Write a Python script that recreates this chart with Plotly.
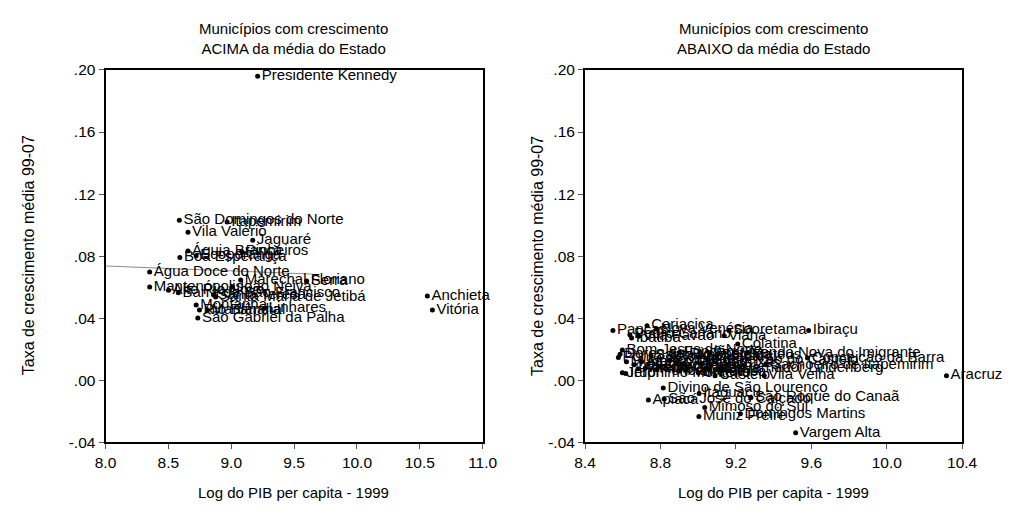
import plotly.graph_objects as go

# ---- Left panel: municipalities ABOVE state average ----
left_names = ["Presidente Kennedy", "São Domingos do Norte", "Itapemirim", "Vila Valério",
              "Jaguaré", "Águia Branca", "Pinheiros", "Boa Esperança", "Ecoporanga",
              "Água Doce do Norte", "Marechal Floriano", "Serra", "Mantenópolis",
              "Alto Rio Novo", "Barra de São Francisco", "João Neiva", "Santa Maria de Jetibá",
              "Santa Teresa", "Montanha", "Linhares", "Rio Bananal", "Marilândia",
              "São Gabriel da Palha", "Anchieta", "Vitória"]
left_x = [9.21, 8.587, 8.967, 8.656, 9.171, 8.656, 9.083, 8.591, 8.721,
          8.351, 9.075, 9.60, 8.351, 8.501, 8.579, 9.01, 8.876,
          8.86, 8.721, 9.264, 8.747, 8.811, 8.734, 10.56, 10.60]
left_y = [0.196, 0.1032, 0.1021, 0.0955, 0.0903, 0.0834, 0.083, 0.0792, 0.0803,
          0.0699, 0.0647, 0.0641, 0.0602, 0.058, 0.0564, 0.0602, 0.0537,
          0.0550, 0.0485, 0.0464, 0.0454, 0.0454, 0.0402, 0.0543, 0.0454]

# fitted line (left panel)
line_x = [8.0, 9.64]
line_y = [0.0737, 0.0685]

# ---- Right panel: municipalities BELOW state average ----
right_names = ["Pancas", "Cariacica", "Nova Venécia", "Sooretama", "Ibiraçu",
               "Pedro Canário", "Ibatiba", "Vila Pavão", "Viana", "Colatina",
               "Bom Jesus do Norte", "Dores do Rio Preto", "Ponto Belo",
               "Venda Nova do Imigrante", "Conceição da Barra", "Cachoeiro de Itapemirim",
               "Guarapari", "São Mateus", "Fundão", "Iconha", "Marataízes",
               "Santa Leopoldina", "Afonso Cláudio", "Laranja da Terra", "Guaçuí",
               "Alegre", "Mucurici", "Conceição do Castelo", "Governador Lindenberg",
               "Atílio Vivácqua", "Alfredo Chaves", "Jerônimo Monteiro", "Irupi",
               "Ibitirama", "Brejetuba", "Castelo", "Vila Velha",
               "Divino de São Lourenço", "Itaguaçu", "Apiacá", "São José do Calçado",
               "São Roque do Canaã", "Mimoso do Sul", "Muniz Freire", "Domingos Martins",
               "Vargem Alta", "Aracruz"]
right_x = [8.548, 8.729, 8.78, 9.164, 9.586,
           8.638, 8.647, 8.685, 9.138, 9.21,
           8.598, 8.586, 8.577,
           9.26, 9.58, 9.36,
           9.00, 9.10, 8.90, 8.85, 9.02,
           8.75, 8.70, 8.66, 8.80,
           8.72, 8.62, 9.05, 9.12,
           8.78, 8.681, 8.598, 8.616,
           8.90, 9.00, 9.09, 9.35,
           8.815, 9.005, 8.736, 8.82,
           9.28, 9.035, 9.004, 9.224,
           9.517, 10.317]
right_y = [0.0321, 0.0352, 0.0331, 0.0322, 0.0322,
           0.0294, 0.0273, 0.0284, 0.0287, 0.0235,
           0.0196, 0.0169, 0.0148,
           0.0175, 0.0145, 0.0100,
           0.0150, 0.0160, 0.0180, 0.0130, 0.0110,
           0.0160, 0.0120, 0.0100, 0.0090,
           0.0080, 0.0120, 0.0130, 0.0080,
           0.0070, 0.0075, 0.0049, 0.0044,
           0.0060, 0.0050, 0.0030, 0.0030,
           -0.0049, -0.0084, -0.0126, -0.0120,
           -0.0110, -0.0174, -0.0232, -0.0215,
           -0.0338, 0.0030]

y_ticks = [-0.04, 0.0, 0.04, 0.08, 0.12, 0.16, 0.20]
y_ticktext = ["-.04", ".00", ".04", ".08", ".12", ".16", ".20"]
left_xticks = [8.0, 8.5, 9.0, 9.5, 10.0, 10.5, 11.0]
right_xticks = [8.4, 8.8, 9.2, 9.6, 10.0, 10.4]

title_left = "Municípios com crescimento<br>ACIMA da média do Estado"
title_right = "Municípios com crescimento<br>ABAIXO da média do Estado"
x_title = "Log do PIB per capita - 1999"
y_title = "Taxa de crescimento média 99-07"

FONT = "Liberation Sans, Arial, sans-serif"
W, H = 1021, 524

fig = go.Figure()

fig.add_trace(go.Scatter(x=line_x, y=line_y, mode="lines",
                         line=dict(color="#8c8c8c", width=1),
                         xaxis="x", yaxis="y", hoverinfo="skip", showlegend=False))

fig.add_trace(go.Scatter(x=left_x, y=left_y, mode="markers+text", text=left_names,
                         textposition="middle right",
                         textfont=dict(family=FONT, size=15, color="black"),
                         marker=dict(color="black", size=5),
                         cliponaxis=False, xaxis="x", yaxis="y", showlegend=False))

fig.add_trace(go.Scatter(x=right_x, y=right_y, mode="markers+text", text=right_names,
                         textposition="middle right",
                         textfont=dict(family=FONT, size=15, color="black"),
                         marker=dict(color="black", size=5),
                         cliponaxis=False, xaxis="x2", yaxis="y2", showlegend=False))


def px_x(p):
    return p / W


def px_y(p):
    return 1 - p / H


ax_common = dict(showgrid=False, zeroline=False, showline=True, linecolor="black",
                 linewidth=2, mirror=True, ticks="outside", ticklen=5, tickwidth=1,
                 tickcolor="#555", tickfont=dict(family=FONT, size=15.5, color="black"))

fig.update_layout(
    width=W, height=H,
    margin=dict(l=0, r=0, t=0, b=0),
    paper_bgcolor="white", plot_bgcolor="white",
    xaxis=dict(domain=[px_x(97), px_x(484)], range=[8.0, 11.0], tickvals=left_xticks,
               tickformat=".1f", anchor="y", **ax_common),
    yaxis=dict(domain=[px_y(448), px_y(63)], range=[-0.04, 0.20], tickvals=y_ticks,
               ticktext=y_ticktext, anchor="x", **ax_common),
    xaxis2=dict(domain=[px_x(589), px_x(976)], range=[8.4, 10.4], tickvals=right_xticks,
                tickformat=".1f", anchor="y2", **ax_common),
    yaxis2=dict(domain=[px_y(448), px_y(63)], range=[-0.04, 0.20], tickvals=y_ticks,
                ticktext=y_ticktext, anchor="x2", **ax_common),
)

title_font = dict(family=FONT, size=15, color="black")
ytitle_font = dict(family=FONT, size=16, color="black")
annotations = [
    dict(text=title_left, x=px_x(290), y=px_y(31), xref="paper", yref="paper",
         showarrow=False, font=title_font, xanchor="center", yanchor="middle"),
    dict(text=title_right, x=px_x(782), y=px_y(31), xref="paper", yref="paper",
         showarrow=False, font=title_font, xanchor="center", yanchor="middle"),
    dict(text=x_title, x=px_x(290), y=px_y(500), xref="paper", yref="paper",
         showarrow=False, font=title_font, xanchor="center", yanchor="middle"),
    dict(text=x_title, x=px_x(782), y=px_y(500), xref="paper", yref="paper",
         showarrow=False, font=title_font, xanchor="center", yanchor="middle"),
    dict(text=y_title, x=px_x(18), y=px_y(255), xref="paper", yref="paper",
         showarrow=False, font=ytitle_font, textangle=-90, xanchor="center", yanchor="middle"),
    dict(text=y_title, x=px_x(540), y=px_y(255), xref="paper", yref="paper",
         showarrow=False, font=ytitle_font, textangle=-90, xanchor="center", yanchor="middle"),
]
fig.update_layout(annotations=annotations)

fig.write_html("out.html", config={"displayModeBar": False},
               post_script="document.body.style.margin='0px';")
